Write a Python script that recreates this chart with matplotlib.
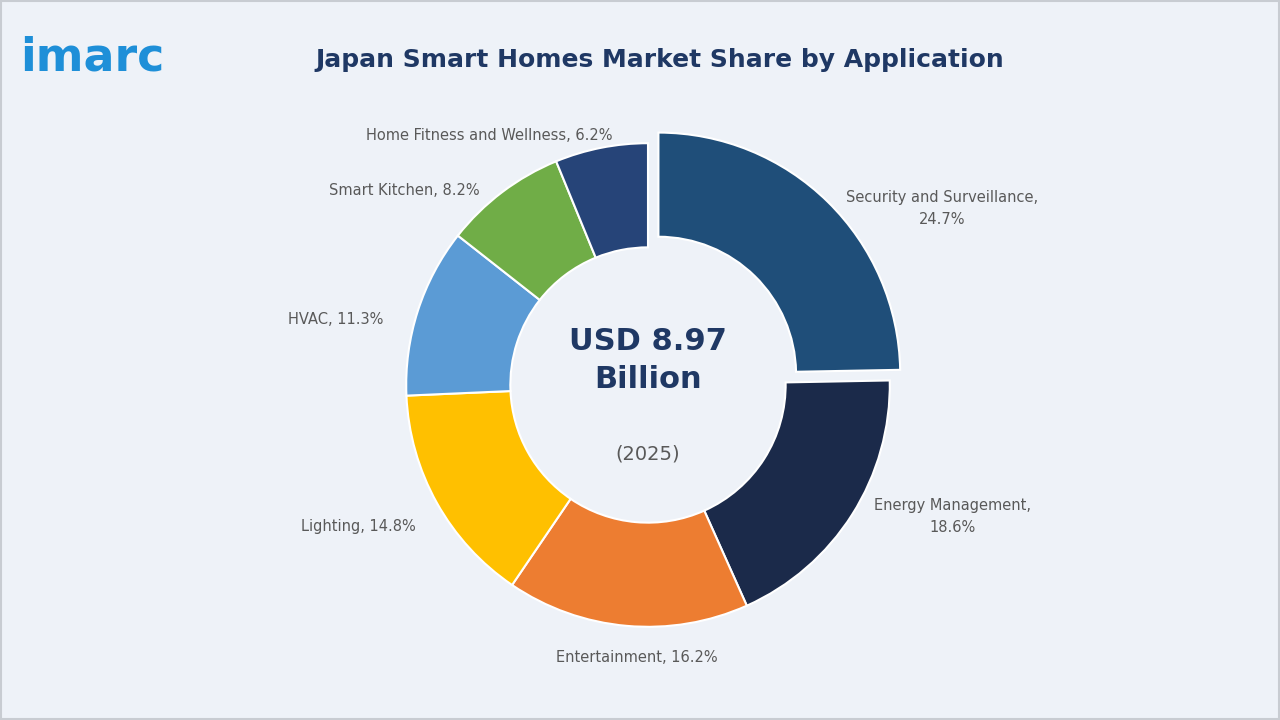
import matplotlib.pyplot as plt
from matplotlib.patches import Rectangle

labels = ["Security and Surveillance", "Energy Management", "Entertainment", "Lighting",
          "HVAC", "Smart Kitchen", "Home Fitness and Wellness"]
shares = [24.7, 18.6, 16.2, 14.8, 11.3, 8.2, 6.2]
colors = ["#1f4e79", "#1b2a4a", "#ed7d31", "#ffc000", "#5b9bd5", "#70ad47", "#264478"]
label_texts = ["Security and Surveillance,\n24.7%", "Energy Management,\n18.6%", "Entertainment, 16.2%",
               "Lighting, 14.8%", "HVAC, 11.3%", "Smart Kitchen, 8.2%", "Home Fitness and Wellness, 6.2%"]
# label centres in pixels (x, y from top)
label_px = [(935, 213), (945, 513), (637, 651), (365, 523), (343, 321), (410, 195), (493, 142)]

W, H = 1280, 720
cx, cy, R = 648, 385, 242
bg = "#eef2f8"

fig = plt.figure(figsize=(12.8, 7.2), dpi=100, facecolor=bg)
fig.patches.append(Rectangle((0.001, 0.001), 0.998, 0.998, transform=fig.transFigure,
                             fill=False, edgecolor="#c8ccd2", linewidth=1.5))

size = 620
ax = fig.add_axes([(cx - size / 2) / W, (H - cy - size / 2) / H, size / W, size / H])
ax.set_facecolor(bg)
lim = size / 2 / R
ax.set_xlim(-lim, lim)
ax.set_ylim(-lim, lim)
ax.set_aspect("equal")
ax.axis("off")

explode = [0.06] + [0] * (len(shares) - 1)
ax.pie(shares, colors=colors, startangle=90, counterclock=False, explode=explode,
       radius=0.975, wedgeprops=dict(width=0.42, edgecolor="white", linewidth=1.5))

for t, (px, py) in zip(label_texts, label_px):
    ax.text((px - cx) / R, (cy - py) / R, t, ha="center", va="center",
            fontsize=10.5, color="#595959", linespacing=1.6)

ax.text(0, 0.10, "USD 8.97\nBillion", ha="center", va="center", fontsize=22,
        fontweight="bold", color="#1f3864", linespacing=1.4)
ax.text(0, -0.28, "(2025)", ha="center", va="center", fontsize=14, color="#595959")

fig.text(660 / W, 1 - 60 / H, "Japan Smart Homes Market Share by Application",
         ha="center", va="center", fontsize=18, fontweight="bold", color="#1f3864")
fig.text(20 / W, 1 - 58 / H, "imarc", ha="left", va="center", fontsize=33,
         fontweight="bold", color="#1e8fd8")

fig.savefig("out.png", dpi=100, facecolor=bg)
